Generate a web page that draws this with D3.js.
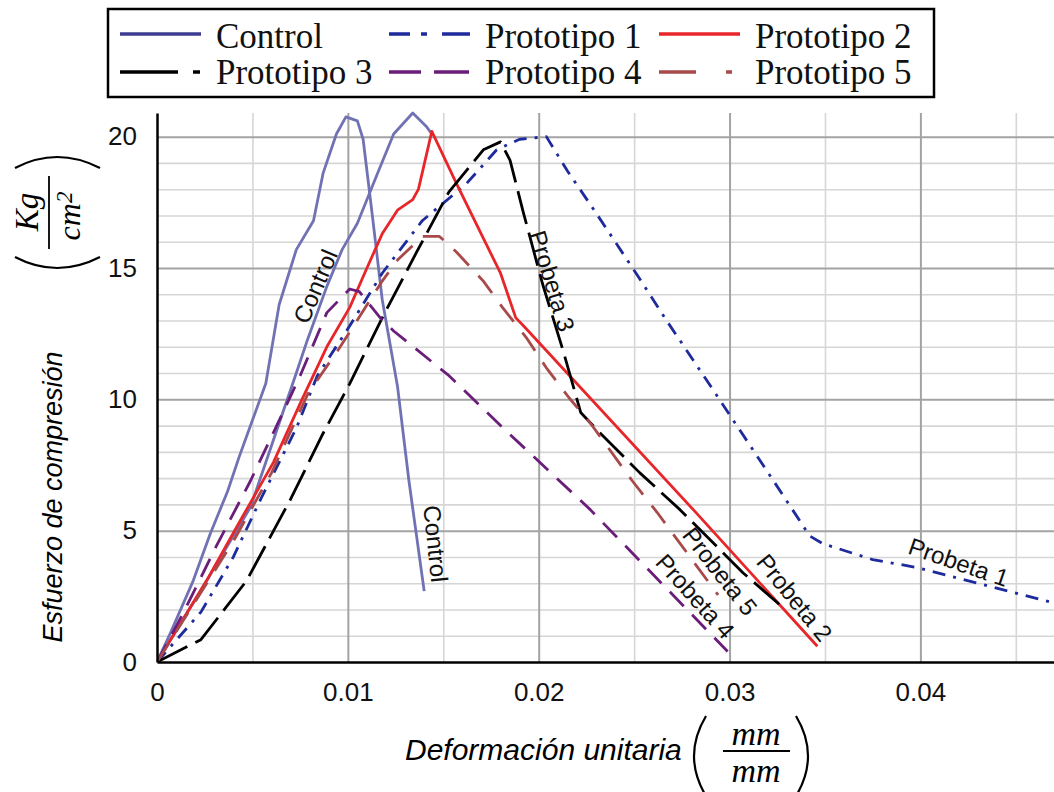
<!DOCTYPE html>
<html>
<head>
<meta charset="utf-8">
<script src="https://cdn.jsdelivr.net/npm/d3@7"></script>
<style>
  body { margin: 0; background: #fff; }
  svg { display: block; }
</style>
</head>
<body>
<div id="chart"></div>
<script>
// Curvas esfuerzo-deformación: [deformación, esfuerzo]
const controlA = [[0,0],[0.0007,1.1],[0.0019,3.1],[0.0028,4.9],[0.0037,6.5],[0.0043,7.8],[0.005,9.2],[0.0057,10.6],[0.0064,13.6],[0.0073,15.7],[0.0082,16.8],[0.0087,18.6],[0.0094,20.1],[0.0099,20.75],[0.0105,20.6],[0.0108,19.9],[0.0113,16.9],[0.0118,13.8],[0.0126,10.5],[0.0132,6.9],[0.014,2.7]];
const controlB = [[0,0],[0.0022,2.6],[0.0049,5.9],[0.0073,11.0],[0.0079,12.3],[0.0089,14.3],[0.0097,15.7],[0.0105,16.7],[0.0115,18.5],[0.0124,20.1],[0.0134,20.9],[0.0141,20.4],[0.0144,20.1]];
const proto1 = [[0,0],[0.0023,1.9],[0.004,4.0],[0.0055,6.3],[0.0073,8.9],[0.0084,10.9],[0.0101,12.8],[0.0118,14.8],[0.0139,16.8],[0.0162,18.2],[0.0178,19.5],[0.019,19.9],[0.0204,20.0],[0.0215,18.7],[0.023,17.1],[0.0251,14.8],[0.0267,13.0],[0.0291,10.4],[0.0323,6.9],[0.0342,4.8],[0.0349,4.5],[0.0375,3.9],[0.0398,3.6],[0.047,2.25]];
const proto2 = [[0,0],[0.0026,3.1],[0.0043,5.3],[0.0061,7.6],[0.0076,10.0],[0.0089,12.0],[0.0101,13.5],[0.011,15.0],[0.0118,16.3],[0.0126,17.2],[0.0134,17.6],[0.0137,18.0],[0.0144,20.2],[0.0157,18.2],[0.018,14.8],[0.0188,13.1],[0.0192,12.8],[0.0281,5.8],[0.0346,0.6]];
const proto3 = [[0,0],[0.0023,0.85],[0.0047,3.1],[0.007,6.2],[0.0087,8.7],[0.0101,10.6],[0.0118,13.1],[0.0136,15.6],[0.0153,17.9],[0.0171,19.5],[0.018,19.8],[0.0185,19.1],[0.0192,17.1],[0.0202,14.4],[0.0213,11.8],[0.0222,9.5],[0.0231,8.8],[0.0253,7.2],[0.0274,5.8],[0.0307,3.4],[0.0326,2.2]];
const proto4 = [[0,0],[0.0014,1.9],[0.0031,4.4],[0.0049,6.9],[0.0066,9.5],[0.0075,10.9],[0.0089,13.3],[0.0101,14.2],[0.0106,14.1],[0.0117,13.1],[0.0124,12.6],[0.0136,11.9],[0.0153,10.9],[0.018,9.0],[0.0227,5.8],[0.0299,0.4]];
const proto5 = [[0,0],[0.002,2.3],[0.004,4.6],[0.006,7.2],[0.0079,10.2],[0.0096,12.0],[0.0118,14.5],[0.0126,15.3],[0.0139,16.2],[0.0148,16.2],[0.0157,15.6],[0.0171,14.5],[0.0181,13.5],[0.0194,12.3],[0.0204,11.2],[0.0216,10.05],[0.0227,9.1],[0.0249,6.9],[0.0262,5.7],[0.0294,2.55]];

const xTicks = [0, 0.01, 0.02, 0.03, 0.04];
const yTicks = [0, 5, 10, 15, 20];

// Etiquetas sobre las curvas: texto, posición (datos), ángulo
const curveLabels = [
  { text: "Control", x: 0.0083, y: 14.3, angle: -67 },
  { text: "Control", x: 0.0146, y: 4.5, angle: 84 },
  { text: "Probeta 3", x: 0.0207, y: 14.5, angle: 73 },
  { text: "Probeta 1", x: 0.0420, y: 3.8, angle: 19 },
  { text: "Probeta 2", x: 0.0334, y: 2.45, angle: 51 },
  { text: "Probeta 5", x: 0.0295, y: 3.45, angle: 52 },
  { text: "Probeta 4", x: 0.0282, y: 2.5, angle: 48 }
];

const series = [
  { name: "Control", data: controlA, color: "#7072b3", dash: null },
  { name: "Control", data: controlB, color: "#7072b3", dash: null },
  { name: "Prototipo 1", data: proto1, color: "#1d2b9c", dash: "13,8,3,8" },
  { name: "Prototipo 2", data: proto2, color: "#e8262a", dash: null },
  { name: "Prototipo 3", data: proto3, color: "#000000", dash: "34,9" },
  { name: "Prototipo 4", data: proto4, color: "#6b1d7a", dash: "20,12" },
  { name: "Prototipo 5", data: proto5, color: "#a84a4a", dash: "22,14" }
];

const legendItems = [
  { name: "Control", color: "#3c3d92", dash: null },
  { name: "Prototipo 1", color: "#1d2b9c", dash: "21,11,6,15,30" },
  { name: "Prototipo 2", color: "#e8262a", dash: null },
  { name: "Prototipo 3", color: "#000000", dash: "58,15,7" },
  { name: "Prototipo 4", color: "#6b1d7a", dash: "32,13,35" },
  { name: "Prototipo 5", color: "#a84a4a", dash: "37,30,6" }
];

const W = 1054, H = 792;
const pL = 157, pR = 1054, pT = 113, pB = 662;
const sans = "'Liberation Sans', Arial, sans-serif";
const serif = "'Liberation Serif', 'Times New Roman', serif";

const svg = d3.select("#chart").append("svg")
  .attr("width", W)
  .attr("height", H)
  .style("background", "#fff");

const x = d3.scaleLinear().domain([0, 0.047]).range([pL, pR]);
const y = d3.scaleLinear().domain([0, 20.9]).range([pB, pT]);

// Rejilla menor
svg.append("g")
  .attr("transform", `translate(0,${pB})`)
  .call(d3.axisBottom(x).tickValues([0.005, 0.015, 0.025, 0.035, 0.045]).tickSize(-(pB - pT)).tickFormat(""))
  .call(g => g.select(".domain").remove())
  .call(g => g.selectAll("line").attr("stroke", "#d6d6d6").attr("stroke-width", 1.6));

svg.append("g")
  .attr("transform", `translate(${pL},0)`)
  .call(d3.axisLeft(y).tickValues(d3.range(1, 21).filter(d => d % 5 !== 0)).tickSize(-(pR - pL)).tickFormat(""))
  .call(g => g.select(".domain").remove())
  .call(g => g.selectAll("line").attr("stroke", "#d6d6d6").attr("stroke-width", 1.6));

// Rejilla mayor
svg.append("g")
  .attr("transform", `translate(0,${pB})`)
  .call(d3.axisBottom(x).tickValues(xTicks.slice(1)).tickSize(-(pB - pT)).tickFormat(""))
  .call(g => g.select(".domain").remove())
  .call(g => g.selectAll("line").attr("stroke", "#a3a3a3").attr("stroke-width", 2));

svg.append("g")
  .attr("transform", `translate(${pL},0)`)
  .call(d3.axisLeft(y).tickValues(yTicks.slice(1)).tickSize(-(pR - pL)).tickFormat(""))
  .call(g => g.select(".domain").remove())
  .call(g => g.selectAll("line").attr("stroke", "#a3a3a3").attr("stroke-width", 2));

// Curvas
svg.append("clipPath").attr("id", "plot-clip")
  .append("rect").attr("x", pL).attr("y", pT - 5).attr("width", pR - pL).attr("height", pB - pT + 5);

const line = d3.line()
  .x(d => x(d[0]))
  .y(d => y(d[1]));

svg.append("g")
  .attr("clip-path", "url(#plot-clip)")
  .selectAll("path")
  .data(series)
  .join("path")
  .attr("fill", "none")
  .attr("stroke", d => d.color)
  .attr("stroke-width", 2.8)
  .attr("stroke-linejoin", "round")
  .attr("stroke-dasharray", d => d.dash)
  .attr("d", d => line(d.data));

// Ejes
svg.append("g")
  .attr("transform", `translate(0,${pB})`)
  .call(d3.axisBottom(x).tickValues(xTicks).tickSize(0).tickPadding(21)
    .tickFormat(d => d === 0 ? "0" : d3.format(".2f")(d)))
  .call(g => g.select(".domain").attr("stroke", "#000").attr("stroke-width", 2.5))
  .call(g => g.selectAll("text").attr("font-family", sans).attr("font-size", 26).attr("fill", "#111"));

svg.append("g")
  .attr("transform", `translate(${pL},0)`)
  .call(d3.axisLeft(y).tickValues(yTicks).tickSize(0).tickPadding(20))
  .call(g => g.select(".domain").attr("stroke", "#000").attr("stroke-width", 2.5))
  .call(g => g.selectAll("text").attr("font-family", sans).attr("font-size", 26).attr("fill", "#111"));

// Etiquetas de curvas
svg.append("g")
  .selectAll("text")
  .data(curveLabels)
  .join("text")
  .attr("transform", d => `translate(${x(d.x)},${y(d.y)}) rotate(${d.angle})`)
  .attr("text-anchor", "middle")
  .attr("dy", "0.35em")
  .attr("font-family", sans)
  .attr("font-size", 24)
  .attr("fill", "#111")
  .text(d => d.text);

// Título eje Y
const yTitle = svg.append("g").attr("transform", "rotate(-90)");
yTitle.append("text")
  .attr("x", -497).attr("y", 62)
  .attr("text-anchor", "middle")
  .attr("font-family", sans).attr("font-style", "italic").attr("font-size", 27)
  .text("Esfuerzo de compresión");
yTitle.append("text")
  .attr("x", -212).attr("y", 38)
  .attr("text-anchor", "middle")
  .attr("font-family", serif).attr("font-style", "italic").attr("font-size", 33)
  .text("Kg");
yTitle.append("line")
  .attr("x1", -249).attr("x2", -176).attr("y1", 49).attr("y2", 49)
  .attr("stroke", "#000").attr("stroke-width", 1.8);
const cm = yTitle.append("text")
  .attr("x", -216).attr("y", 80)
  .attr("text-anchor", "middle")
  .attr("font-family", serif).attr("font-style", "italic").attr("font-size", 32);
cm.append("tspan").text("cm");
cm.append("tspan").attr("dy", -8).attr("font-size", 23).text("2");

svg.append("path")
  .attr("d", "M15,168 Q57,146 100,168")
  .attr("fill", "none").attr("stroke", "#000").attr("stroke-width", 2.2);
svg.append("path")
  .attr("d", "M15,257 Q57,279 100,257")
  .attr("fill", "none").attr("stroke", "#000").attr("stroke-width", 2.2);

// Título eje X
svg.append("text")
  .attr("x", 405).attr("y", 760)
  .attr("font-family", sans).attr("font-style", "italic").attr("font-size", 30)
  .text("Deformación unitaria");
svg.append("text")
  .attr("x", 756).attr("y", 745)
  .attr("text-anchor", "middle")
  .attr("font-family", serif).attr("font-style", "italic").attr("font-size", 34)
  .text("mm");
svg.append("line")
  .attr("x1", 723).attr("x2", 790).attr("y1", 751).attr("y2", 751)
  .attr("stroke", "#000").attr("stroke-width", 1.8);
svg.append("text")
  .attr("x", 756).attr("y", 782)
  .attr("text-anchor", "middle")
  .attr("font-family", serif).attr("font-style", "italic").attr("font-size", 34)
  .text("mm");
svg.append("path")
  .attr("d", "M706,716 Q682,756 706,796")
  .attr("fill", "none").attr("stroke", "#000").attr("stroke-width", 2.2);
svg.append("path")
  .attr("d", "M796,716 Q820,756 796,796")
  .attr("fill", "none").attr("stroke", "#000").attr("stroke-width", 2.2);

// Leyenda
const legend = svg.append("g");
legend.append("rect")
  .attr("x", 108).attr("y", 9).attr("width", 826).attr("height", 88)
  .attr("fill", "#fff").attr("stroke", "#000").attr("stroke-width", 2.5);

const colX = [120, 389, 659];
const rowY = [34, 72];

const item = legend.selectAll("g.item")
  .data(legendItems)
  .join("g")
  .attr("class", "item")
  .attr("transform", (d, i) => `translate(${colX[i % 3]},${rowY[Math.floor(i / 3)]})`);

item.append("line")
  .attr("x1", 0).attr("x2", 81)
  .attr("y1", 0).attr("y2", 0)
  .attr("stroke", d => d.color)
  .attr("stroke-width", 3.4)
  .attr("stroke-dasharray", d => d.dash);

item.append("text")
  .attr("x", 96)
  .attr("y", (d, i) => i < 3 ? 14 : 12)
  .attr("font-family", serif)
  .attr("font-size", 35)
  .attr("fill", "#111")
  .text(d => d.name);
</script>
</body>
</html>
